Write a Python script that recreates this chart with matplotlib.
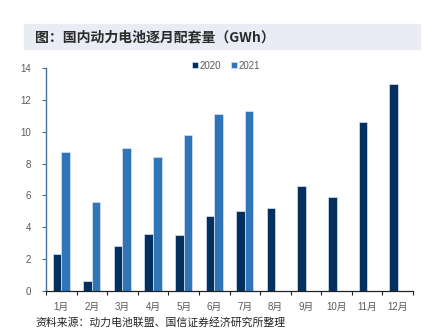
import matplotlib
matplotlib.use('Agg')
import matplotlib.pyplot as plt
from matplotlib.patches import Rectangle
import numpy as np

plt.rcParams['font.family'] = ['Noto Sans CJK SC', 'DejaVu Sans']

months = ['1月', '2月', '3月', '4月', '5月', '6月', '7月', '8月', '9月', '10月', '11月', '12月']
vals_2020 = [2.3, 0.6, 2.8, 3.6, 3.5, 4.7, 5.0, 5.2, 6.6, 5.9, 10.6, 13.0]
vals_2021 = [8.7, 5.6, 9.0, 8.4, 9.8, 11.1, 11.3]

c_2020 = '#03305F'
c_2021 = '#2F75B8'
grey = '#595959'
num_font = ['Liberation Sans', 'Noto Sans CJK SC']

fig = plt.figure(figsize=(4.4, 3.32), dpi=100)

# title band
fig.patches.append(Rectangle((24 / 440, 1 - 49 / 332), 396 / 440, 25 / 332,
                             transform=fig.transFigure, color='#E9EBF5', zorder=0))
fig.text(35 / 440, 1 - 37 / 332, '图：国内动力电池逐月配套量（GWh）', fontsize=10,
         fontweight='bold', va='center', ha='left', color='#2a2a2a')
fig.text(35 / 440, 1 - 322 / 332, '资料来源：动力电池联盟、国信证券经济研究所整理', fontsize=7.8,
         va='center', ha='left', color='#222222')

ax = fig.add_axes([46 / 440, 41 / 332, 367 / 440, 223 / 332])
x = np.arange(len(months))
w = 0.28
ax.bar(x[:len(vals_2020)] - w / 2, vals_2020, w, color=c_2020, edgecolor='#dbe4ef',
       linewidth=0.5, label='2020')
ax.bar(x[:len(vals_2021)] + w / 2, vals_2021, w, color=c_2021, edgecolor='#dbe4ef',
       linewidth=0.5, label='2021')

ax.set_xlim(-0.5, len(months) - 0.5)
ax.set_ylim(0, 14)
ax.set_yticks(range(0, 15, 2))
ax.set_xticks(x)
ax.set_xticklabels(months)
ax.set_xticks(np.arange(-0.5, len(months), 1), minor=True)
ax.tick_params(axis='x', which='major', length=0, pad=8, labelsize=7, labelcolor=grey)
ax.tick_params(axis='x', which='minor', length=3, width=0.8, color='#222222')
ax.tick_params(axis='y', length=3, width=0.8, color='#4a6e9a', labelsize=7,
               labelcolor=grey, pad=8)
for lbl in ax.get_xticklabels() + ax.get_yticklabels():
    lbl.set_family(num_font)

for side in ['top', 'right']:
    ax.spines[side].set_visible(False)
ax.spines['left'].set_color('#4a6e9a')
ax.spines['left'].set_linewidth(1.0)
ax.spines['bottom'].set_color('#222222')
ax.spines['bottom'].set_linewidth(0.9)

ax.legend(loc='center left', bbox_to_anchor=(0.385, 1.01), ncol=2, frameon=False,
          prop={'family': num_font, 'size': 7}, labelcolor=grey, handlelength=0.6,
          handleheight=0.6, handletextpad=0.2, columnspacing=1.0, borderpad=0)

fig.savefig('out.png', dpi=100)
